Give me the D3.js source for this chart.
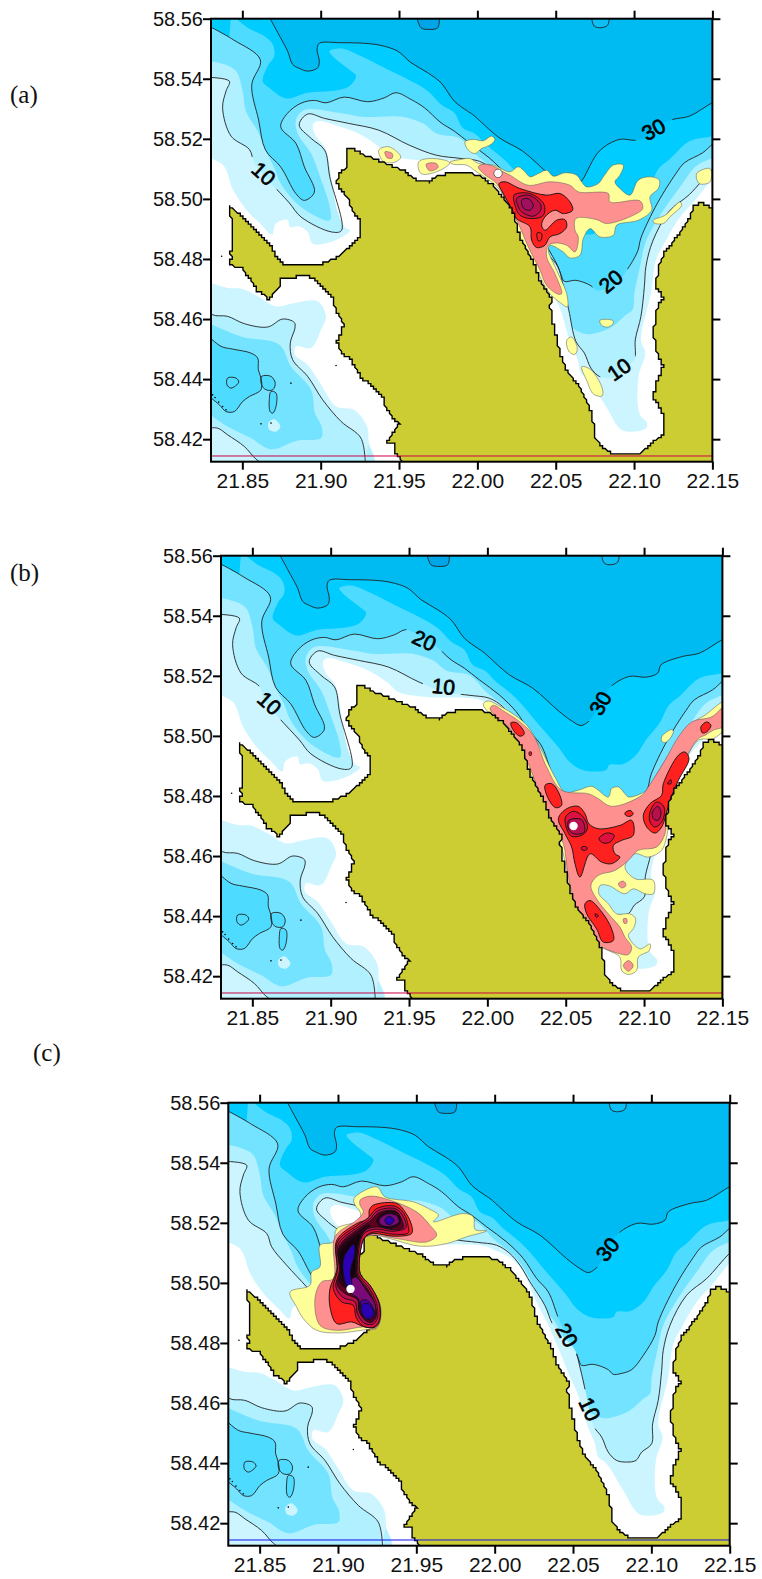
<!DOCTYPE html>
<html><head><meta charset="utf-8">
<script src="https://cdn.jsdelivr.net/npm/d3@7"></script>
<style>html,body{margin:0;background:#fff}svg{display:block}</style></head>
<body><script>
const lonTicks=[21.85,21.90,21.95,22.00,22.05,22.10,22.15];
const latTicks=[58.42,58.44,58.46,58.48,58.50,58.52,58.54,58.56];
const coastNorth=[[11.5,125],[20.7,132],[28.3,141],[34,147],[39,152],[41,157.7],[47,163.7],[70,163.7],[81,158.8],[94.6,145.4],[94.6,133.2],[92,130],[88.7,124.3],[87.7,119.8],[83,114.3],[80,108.7],[82,103],[87,98.7],[87,87],[90,86.4],[96.3,90.2],[107,94.2],[114.6,97.6],[124.4,102],[131,107.6],[139.5,109],[145,104],[163,102],[172,105],[180,111],[188.3,121.6],[192.5,128.2],[195.7,139.3],[196.8,144.9],[202,155],[206.3,163.8],[210.6,176],[217.6,187],[216,192.7],[218,195],[218,201.6],[220,209.3],[222.3,221.6],[226.6,233.8],[234,242.7],[241.4,258],[244.6,271.6],[244.6,278.2],[250,285],[255.3,289],[274.4,289],[288.3,277],[288.7,263.8],[286,258.2],[282.3,251.6],[285,240.4],[288.7,231.6],[285,223.8],[282.3,209.3],[285,191.6],[288.7,186],[284.4,179.3],[285,167.1],[289.3,156],[296.8,146],[305.3,132.7],[308.5,125],[312.7,122],[319.7,126],[330,129]];
const landCorners=[[330,310],[121.7,310]];
const coastSouth=[[121.7,294.9],[118,289.3],[116.6,283.1],[111.7,281.6],[115.3,277.1],[120.2,269.3],[116,266],[110.6,257.1],[109.6,251.6],[102,243.8],[95.7,239.3],[92.6,232.7],[89.4,227.1],[84,222.7],[81.3,219.3],[80.4,214.2],[83,209.3],[84.5,203.8],[82,198.2],[79.4,193.8],[78.3,187.1],[74.5,182.7],[68,174.9],[61.7,170.9],[56.4,170.5],[53.6,172],[43.6,173.3],[44.7,177.8],[36.2,187.1],[34,183.8],[29.8,181.6],[28,178.2],[24.5,172.7],[20.2,166.5],[17,165.3],[11.3,163.8],[13.2,159.3],[12.3,155.6],[14,152.7],[14.3,144.9],[13.6,138.8],[12.1,127.6]];
const depth30=[[36.2,-3],[42.6,9.3],[48.9,21.6],[52.1,30.4],[56.4,33.1],[61.7,34.9],[68.1,32.7],[69.1,28.2],[67.7,20.4],[69.1,16.4],[83,16],[97.9,16.4],[108.5,17.8],[119.1,21.6],[127.7,29.3],[138.3,36],[146.8,42.7],[155.3,54.9],[163.8,61.6],[167,63.8],[184,79.3],[198.9,88.2],[215.9,103.8],[224.4,110.4],[229.7,113.1],[234,110.9],[237.2,107.1],[247.8,88.2],[260.6,80.4],[271.2,80.9],[278.7,78.2],[280.8,72.7],[294.6,67.1],[305.3,64.9],[319.8,56],[326,53]];
const band25=[[12.8,-3],[23.4,6],[34,11.6],[39.4,17.1],[40.4,24.9],[36.2,31.6],[33,41.6],[37.2,46],[47.9,53.1],[61.7,49.3],[76.6,48.2],[88.3,44.9],[92.6,38.2],[89.4,34.9],[78.7,26],[75.5,21.6],[83,19.8],[95.7,24.9],[110.6,32.7],[125.5,40.4],[138.3,48.2],[146.8,57.1],[155.3,62.7],[160.6,72.7],[169,77],[174.4,82.7],[188.3,94.9],[203,112.7],[215.9,128.2],[222.3,137.1],[230.8,142.7],[245.7,142.7],[247.8,139.3],[256.3,138.9],[264.9,132.7],[271.2,122.7],[279.8,111.6],[286.1,99.3],[292.5,93.8],[305.3,81.6],[319.8,78.2],[326,76]];
const depth20=[[-3,4],[14.2,14],[31.5,27.4],[26,44],[30.4,67.5],[34.8,87.5],[44.5,98.7],[54.2,116.5],[59.6,121],[66,115.4],[59.6,98.7],[54.2,83],[44.5,72],[48.8,63],[57.4,56.3],[66,54.4],[73.4,56],[85,52.2],[100,55.3],[110.6,52.7],[118,49.3],[127.7,53.8],[136.2,59.3],[146.8,69.3],[155.3,74.9],[164.9,82.7],[177.6,92.7],[188.3,103.8],[196.8,117.1],[204.2,126],[211.7,146],[221.2,164.5],[223.4,170.5],[225.5,174.9],[232.9,174.2],[242.5,177.8],[245.7,180.9],[250,180.5],[257.4,177.8],[264.9,168.2],[272.3,154.9],[274.4,146],[285,122.7],[296.8,103],[302.1,96],[313.8,89.3],[319.8,83.8],[326,79]];
const band15=[[-3,27.5],[8.5,30.4],[16,34.9],[20.2,48.2],[22.3,61.6],[29.8,74.9],[35.1,88.2],[40.4,99.3],[44.5,109.8],[57.4,125.4],[75.8,134.3],[75.8,125.4],[70.4,107.6],[63.9,89.8],[55.3,76.4],[54.2,67.5],[59.6,60.8],[83.3,63],[96.3,65.3],[122.2,65.3],[135.1,69.7],[143.8,76.4],[158.9,79.7],[169,90.4],[184,103.8],[194.6,121.6],[201,137.1],[208.5,146],[221.2,173.8],[228.7,200.5],[230.8,206],[239.3,210],[245.7,209.3],[256.3,204.9],[264.9,197.1],[269.1,193.8],[270.2,182.7],[273.4,167.1],[277.6,148.2],[288.3,128.2],[298.9,112.7],[309.5,98.2],[319.8,92.7],[326,90]];
const depth10=[[-3,39],[11.7,41.6],[9.6,48.2],[7.4,59.3],[12.8,78.2],[24.5,87.1],[27.7,96],[37.2,108.2],[50,122.7],[57.4,132],[76.9,142],[83.3,141],[75.8,105.3],[72.5,87.5],[63.9,79.7],[56.3,70.8],[61.7,63.5],[72.5,66.4],[87.7,69.7],[107,74.2],[126.5,84.2],[143.8,90.9],[158.9,93],[171.2,94.9],[179.7,100.4],[186.1,108.2],[192.5,119.3],[202,134.9],[207.4,148.2],[221.2,164.9],[224.4,176],[228.3,193.8],[232.9,214.9],[238.3,222.7],[242.5,232.7],[247.8,238.2],[254.2,239.3],[260.2,238.2],[263.8,232.7],[270.2,227.1],[270.8,213.8],[274.4,198.2],[276.6,178.2],[277.6,164.9],[281.9,148.2],[292.5,128.2],[305.3,117.1],[319.8,100.4],[326,95]];
const band5=[[-3,92],[7.8,97.6],[14.2,114.3],[22.9,127.6],[31.5,136.5],[39,143.7],[41.2,136.5],[48.8,133.9],[50.5,138.8],[56.3,138.3],[61.7,142],[65,149.9],[79,147.7],[88.7,141],[85.5,138.8],[81.2,129.8],[77.9,114.3],[75.8,98.7],[72.5,85.3],[67.1,78.6],[65,70.8],[68.2,68.2],[79,70.8],[94.1,76.4],[106,84.2],[113.6,90.9],[133,94.2],[161,95],[170.2,98.2],[180.8,103.8],[188.3,112.7],[195.7,130.4],[201,141.6],[204.2,148.2],[211.7,166],[218,182.7],[223.4,194.9],[228.7,213.8],[234,227.1],[236.1,236],[241.4,240.4],[252.1,258.2],[262.7,274.2],[277.6,272.7],[278.3,269.3],[273.4,262.7],[272.9,238.2],[277.2,222.7],[274.4,213.8],[280.8,182.7],[284,160.5],[288.3,151.6],[298.9,132.7],[309.5,120.4],[319.8,107.1],[326,102]];
const basinCoastal=[[-3,175],[10.6,179.3],[20.2,180],[29.8,184.9],[41.5,191.6],[53.2,189.3],[68,188.2],[73.4,198.2],[70.2,207.1],[63.8,219.3],[54.3,218.2],[53.6,223.8],[61.7,230.5],[70.2,243.8],[79.8,258.2],[91.5,260.5],[99.6,271.6],[101,283.8],[104.3,291.6],[104.3,310],[-3,310]];
const basin10=[[-3,191],[1,197.1],[10.6,198.2],[21.3,203.1],[36.2,205.3],[45.7,200],[53.2,202.3],[53.6,206],[50.6,216],[52.1,227.1],[61.7,238.2],[71.3,253.8],[83,268.2],[95.7,279.3],[98.5,297]];
const basin10Rim=[[100.4,283.8],[103.6,292],[103.6,310],[-3,310]];
const basin15=[[-3,202],[19.1,211.6],[43.6,217.1],[51,231.6],[63.8,247.1],[66.4,262.7],[70.6,271.6],[70.2,279.3],[55.3,280.9],[38.3,286.7],[25.5,279.3],[10.6,271.6],[-3,262]];
const basin20=[[-3,210],[6.4,218.2],[13.8,220],[25.5,222.7],[29.8,226],[30.2,233.8],[31.9,239.3],[31.9,247.1],[24.5,251.6],[20.2,254.9],[14.9,261.6],[9.6,261.6],[5.3,257.1],[-3,250]];
const basinRing=[[10.6,239.3],[15.9,239.3],[17.7,242],[12.8,246],[10.2,243.8]];
const basinPool=[[32.3,238.2],[38.3,238.2],[41,242.7],[39.4,247.1],[35.1,247.1],[32.3,243.8]];
const basinSlot=[[38.3,248.2],[41.5,249.3],[41.5,258.2],[39.4,262.7],[37.7,261.6],[37.2,253.8]];
const basinSouth=[[-3,272.7],[4.3,272.7],[10.6,277.1],[21.3,284.9],[28.7,293.3],[34,297]];
const shoal=[[36.6,269.3],[40.4,266.7],[44.3,271.6],[41.5,274.9],[37.2,273.8]];
const northHoleA=[[130.9,-3],[134,6],[138.3,7.1],[144.7,6],[145.7,-3]];
const northHoleB=[[242.5,-3],[244.6,4.9],[248.9,6],[253.2,4.2],[254.2,-3]];
const specks=[[6.8,158.2],[79.8,230.9],[51,242.7],[31.9,269.8],[38.3,269.3],[1,250.5],[2.6,252.2],[4.9,255.3],[7.4,258.2],[9.6,260.4]];
const sectionLat=58.4144;
// dye concentration patches: [level, outline]
const plumeA=[
[0,[[152.4,95.5],[158.9,93.8],[165.3,93.1],[170.6,96.4],[180.2,97.5],[190.8,102],[196.1,98.6],[200.4,102],[203.6,105.3],[208.9,103.1],[214.2,100.9],[218.5,104.9],[225.9,102.6],[233.4,104.2],[236.5,108.6],[239.7,112],[247.2,109.8],[250.4,105.3],[256.8,97.5],[263.1,97.5],[261,104.2],[257.8,108.6],[261,113.1],[267.4,117.5],[272.7,107.5],[280.2,105.3],[286.1,107.5],[285.5,113.1],[280.2,118.6],[281.2,127.5],[272.7,134.2],[258.9,137.5],[256.8,144.2],[248.2,145.3],[241.9,139.8],[237.6,146.4],[235.5,157.5],[229.1,159.3],[224.8,155.3],[216.3,150.9],[215.3,154.2],[220.6,167.5],[227,183.1],[227.4,192],[223.8,189.8],[216.3,183.1],[208.9,169.8],[202.5,155.3],[197.2,145.3],[194,136.4],[184.4,114.2],[175.9,106.4],[169.5,102],[163.1,97.5],[155,97]]],
[0,[[162.1,82],[167.4,80.4],[173.8,81.3],[179.1,78.2],[181.2,80.4],[178,84.2],[172.7,86.4],[168.5,89.8],[164.2,87.5]]],
[0,[[248.2,200.9],[256.3,200.9],[256.8,202.6],[253.6,205.3],[249.3,204.2]]],
[0,[[227,214.2],[230.2,212],[233.8,219.8],[232.3,223.5],[228.7,222]]],
[0,[[236.6,231.8],[242,233.4],[249.6,245.7],[249.6,251.2],[244.2,250.1],[239.9,241.2]]],
[0,[[310,103.1],[318.5,99.8],[318.5,108.6],[311.6,109.8]]],
[0,[[282.3,134.2],[289.7,130.9],[299.3,122],[300.4,124.2],[292.9,132],[288.7,136.4],[282.7,136]]],
[0,[[107.1,87.5],[113.6,85.3],[121.1,92],[117.9,95.3],[110.3,95.3]]],
[0,[[132.6,95.3],[141.6,93.1],[152.4,96],[143.8,102],[134,103.1]]],
[1,[[111,88.6],[115.7,89.8],[115.7,92.7],[112.5,92.7]]],
[1,[[137.3,96.9],[143.8,96.4],[144.9,99.1],[139.5,101.3]]],
[1,[[170.6,98.6],[173.8,96.9],[180.2,98.2],[186.5,102],[190.8,104.2],[202.5,110.9],[216.3,108.6],[229.1,110.9],[234.4,115.3],[253.6,116.4],[254.6,122],[273.8,121.3],[275.5,126.4],[269.5,130.9],[252.5,136.4],[246.1,133.8],[232.9,133.1],[232.3,140.9],[234.4,145.3],[232.3,155.3],[227,150.9],[220.6,149.3],[215.3,150.9],[214.2,158.6],[219.5,169.8],[223.8,183.1],[221.6,183.5],[214.2,177.5],[210,167.5],[202.5,152],[196.1,136.4],[189.7,124.2],[182.3,109.8],[173.8,103.1]]],
[2,[[183.8,109.8],[187.6,108.6],[197.2,113.1],[214.2,117.5],[222.7,116.4],[229.1,122],[230.8,127.5],[224.8,129.8],[219.5,127.5],[213.1,132],[211,137.5],[213.1,140.9],[220.6,134.2],[225.9,133.8],[227,138.6],[222.7,143.1],[216.3,145.3],[213.1,150.9],[207.8,152.4],[204.6,147.5],[203.6,138.6],[195,133.1],[191.9,126.4],[186.5,116.4]]],
[2,[[208.2,142.6],[211,143.1],[210.6,147.5],[208.9,148]]],
[3,[[193.4,117.5],[201.4,116],[207.8,118.6],[212.7,124.2],[212.1,130.9],[205.7,133.1],[197.2,130.9],[194,124.2]]],
[4,[[195,119.8],[202.5,117.5],[210,123.1],[210.4,127.5],[205.7,131.5],[198.2,128.6],[195.7,124.2]]],
[5,[[198.2,120.9],[202.5,119.8],[205.7,124.2],[203.6,127.5],[199.7,126.4]]]
];
const plumeB=[
[0,[[167.4,98.5],[170.6,96.7],[177,99.6],[187.6,106.2],[196.1,114],[204.6,129.6],[213.1,147.3],[219.5,157.3],[228,156.2],[236.6,153.6],[247.2,160.7],[249.3,155.1],[253.6,154],[257.8,158.5],[260,160.7],[271.7,156.2],[277,147.3],[287.6,129.6],[300.4,111.8],[308.9,106.2],[322,97],[322,114],[314.2,121.8],[304.6,122.9],[294,142.9],[286.6,171.8],[284.4,187.3],[281.2,196.2],[272.7,200.7],[264.2,198.5],[257.8,207.3],[264.2,215.1],[275.9,216.2],[275.9,225.1],[270.6,225.1],[263.1,221.8],[257.8,225.1],[247.2,219.6],[241.9,219.6],[241.2,225.1],[247.2,231.8],[252.5,238.5],[261,238.5],[264.6,241.8],[263.1,248.5],[260,252.9],[267.4,261.8],[273.8,258.5],[273.4,262.9],[266.3,267.3],[265.3,276.2],[260,278.9],[255.7,276.2],[254.6,267.3],[247.2,262.9],[240.8,259.6],[234.4,245.1],[228,238.5],[221.7,218.5],[218.5,198.5],[213.1,182.9],[206.8,167.3],[199.3,149.6],[191.9,131.8],[184.4,116.2],[177,108.5],[169.5,102.9]]],
[0,[[281.2,120.7],[287.6,115.8],[288.7,117.3],[284.4,124],[281.6,124]]],
[1,[[171.7,101.8],[173.8,99.6],[181.2,104],[190.8,110.7],[199.3,119.6],[207.8,140.7],[217.4,156.2],[234.4,158.5],[240.8,161.8],[249.3,166.9],[268.5,159.6],[272.7,154],[283.4,136.2],[291.9,120.7],[300.4,110.7],[313.2,107.3],[322,100],[322,113],[314.2,116.2],[308.9,119.6],[304.6,121.8],[291.9,145.1],[284.4,171.8],[283.4,185.1],[278,194],[266.3,196.2],[260,202.9],[251.4,209.6],[240.8,212.9],[236.1,219.6],[239.7,228.5],[247.2,238.5],[254.6,247.3],[257.8,254],[262.1,260.7],[260,265.6],[254.6,265.1],[240.8,258.5],[234.4,242.9],[228,236.2],[221.7,214],[218.5,191.8],[211,176.2],[203.6,158.5],[195.1,136.2],[183.4,114],[177,108.5]]],
[1,[[253.6,218.5],[256.8,216.7],[258.5,219.6],[255.7,221.3]]],
[1,[[256.8,241.8],[258.9,241.8],[258.9,244.7],[257.2,244.7]]],
[1,[[256.8,272.9],[260,269.6],[263.1,272.9],[260,276.7]]],
[2,[[215.3,175.1],[220.6,168.5],[228,166.9],[232.3,171.8],[234.8,178.5],[240.8,181.8],[254.6,179.6],[262.1,176.2],[263.1,186.2],[255.7,189.6],[250.4,192.9],[251.4,198.5],[254.6,200.7],[249.3,205.1],[242.9,204],[235.5,198.5],[229.1,214],[225.9,205.1],[223.8,194],[219.5,185.1]]],
[2,[[206.8,152.9],[211,151.8],[215.3,157.3],[217.4,166.2],[213.6,167.8],[208.9,161.8]]],
[2,[[185,111.3],[188.7,111.3],[193.6,118.5],[190.8,120.2],[186.6,116.2]]],
[2,[[257.8,171.3],[261,169.6],[263.1,171.8],[261,173.6],[258.3,172.9]]],
[2,[[269.5,172.9],[273.8,165.1],[281.2,159.6],[282.3,151.8],[291.9,132.9],[296.1,130.7],[298.7,135.1],[291.9,149.6],[286.6,162.9],[281.2,180.7],[277,184.7],[271.7,180.7]]],
[2,[[306.3,114],[310,110.7],[312.7,112.9],[310,117.3],[307.2,118]]],
[2,[[232.3,231.8],[235.5,229.6],[243,237.3],[249.3,248.5],[250.4,256.2],[244,257.3],[239.7,248.5],[233.4,238.5]]],
[2,[[196.8,130.7],[198,130.7],[198,132.9],[196.8,132.9]]],
[3,[[219.9,174],[224.9,170.2],[230.2,172.9],[234,180.7],[231.2,185.6],[223.8,186.9],[220.6,181.8]]],
[4,[[222,176.2],[230.2,175.8],[231.9,184],[224.9,185.1],[221.7,181.8]]],
[3,[[241.2,188.5],[246.1,184.7],[251,186.2],[248.3,190.7],[244,191.3]]],
[3,[[273.8,170.7],[278,164],[282.7,167.3],[281.9,176.2],[277,180.7],[273.8,177.3]]],
[4,[[275.3,170.7],[278.7,166.9],[280.8,170.7],[279.1,176.2],[275.9,175.1]]],
[3,[[230.2,194],[233.4,194],[233.4,195.8],[230.2,195.8]]],
[3,[[238.7,238.5],[240.8,239.6],[239.7,241]]],
[3,[[285,151.8],[287.2,149.1],[287.2,151.8]]]
];
const plumeC=[
[0,[[80.2,63.8],[94.7,56],[100,62.7],[118.1,66],[127.7,70.5],[134.1,74.9],[130.9,79.3],[150,73.8],[156.4,76],[157.5,84.5],[164.9,85.3],[152.1,89.3],[139.4,93.8],[122.4,95.6],[103.2,90.5],[92.6,88.2],[86.5,90.5],[83.8,101],[84,114],[89.8,121.8],[96.6,134],[96.8,145],[94,150.5],[88.3,151.1],[70.2,153.3],[56.4,151.6],[47.9,143.8],[43.6,136],[39.4,126],[52.1,121.6],[53.2,112.7],[58.5,109.3],[58.5,94.9],[67,92.7],[69.2,83.8],[84.1,78.2],[84.1,72.7],[80.9,68.2]]],
[1,[[84.1,64.9],[90.4,62.2],[103.2,64.9],[120.2,72.7],[128.7,81.6],[133,88.2],[126.6,92.7],[107.5,90.5],[92.6,88.2],[87,90],[83.9,101],[84,114],[90,122],[96.8,134],[97,145],[94,150.4],[86.2,149.3],[69.2,151.6],[58.5,148.2],[55.3,130.5],[59.6,119.3],[67,117.1],[68.1,89.3],[81.9,78.2],[86.2,72.7],[84.1,68.2]]],
[2,[[90,71.6],[92.6,68.2],[107.5,67.1],[112.8,72.7],[117,81.6],[117,87.1],[105.3,88.9],[92.6,87.1],[87,89.8],[84.1,100.5],[84.3,114],[90.4,121.6],[96.4,133.8],[96.6,145],[93.6,149.5],[86.2,149],[78.7,146],[69.2,147.1],[64.9,136],[64.9,123.8],[69.2,111.6],[69.2,91.6],[81.9,80.5],[89.4,77.1]]],
[3,[[69.6,92.7],[82.4,81.6],[89.4,76.5],[94.7,70.5],[106.4,68.9],[112.1,73.8],[114.9,82.7],[114.9,86.7],[105.3,87.6],[93.6,86],[87.3,89.3],[84.1,100.5],[84.1,113.8],[90.4,121.6],[96.2,133.8],[96.4,144.9],[93.2,149.3],[86.2,148.9],[81.5,142.7],[79.8,134.9],[72.4,132.7],[67,123.8],[69.6,111.6]]],
[4,[[70.2,94.2],[83,82.7],[90,77.8],[95.3,72],[106.4,70.5],[111.1,74.9],[113.4,83.1],[105.3,85.6],[93.6,84.2],[86.2,87.6],[83,100.5],[83,114.2],[89.4,122.7],[94.7,133.8],[95.1,143.8],[92.1,147.6],[86.6,146.7],[82.4,140.5],[80.9,132.7],[73.4,129.8],[68.7,122.7],[70.9,111.6]]],
[6,[[70.9,95.6],[83.4,83.8],[90.4,78.9],[96.2,73.3],[106.4,72],[110,76.5],[111.7,83.1],[104.9,84.5],[94.1,82.7],[85.1,86.5],[82.4,100.5],[82.4,114.9],[88.7,123.8],[93.6,133.8],[94.3,142.7],[91.5,146.2],[87.3,144.9],[83.4,138.7],[82.4,131.1],[74.5,127.1],[69.6,121.6],[71.3,111.6]]],
[10,[[70.9,97.8],[83.6,85.3],[88.7,81.6],[90.4,81.6],[85.1,88.2],[81.9,100.5],[81.9,116],[87.3,124.9],[90.4,129.3],[84.1,127.1],[76.6,124.5],[70.9,119.3],[71.7,111.6]]],
[7,[[71.7,99.3],[83,88.2],[84.1,88.2],[81.1,100.5],[81.1,111.6],[78.7,119.3],[74.5,120.5],[71.9,113.8]]],
[8,[[76.6,121.6],[80.9,116],[88.7,126],[93.6,133.8],[93.6,141.6],[90.9,144.5],[87.3,143.8],[84.1,138.2],[83,130.5],[78.1,126.7]]],
[9,[[73.9,102.7],[80.2,94.2],[80.7,100.5],[78.1,111.6],[78.5,122.7],[75.6,121.6],[73.4,113.8]]],
[11,[[84.7,132],[88.7,131.6],[93.2,139.3],[90.9,144.5],[86.2,141.6]]],
[9,[[85.6,134.2],[89.4,133.8],[93,140.9],[88.7,144],[85.1,140]]],
[10,[[94.7,78.2],[100,72.7],[107.9,73.3],[110,79.3],[106.4,83.1],[96.8,82.2]]],
[8,[[96.2,78.2],[100.7,74.2],[107,74.9],[109,79.3],[104.3,82.2],[97.9,81.6]]],
[9,[[100,77.8],[102.8,75.6],[105.8,78.2],[103.6,81.1],[100.7,80.4]]]
];
const labelsA=[["10",33.7,103.1,42],["10",260.4,233.4,-35],["20",255,174.8,-40],["30",282.4,73.7,-28]];
const labelsB=[["10",31,98.2,42],["20",129.8,56.3,25],["10",142,87,5],["30",242,98.2,-60]];
const labelsC=[["30",242,97.6,-50],["20",216.2,154.8,60],["10",230.7,204,65]];

const levelColors=["#FFFF99","#FF9090","#FF2020","#DD1040","#B8104C","#A01060","#600020","#180010","#7A0A78","#2A00B0","#300018","#5000A0"];
const panels=[
 {name:"(a)",nx:10,ny:103,left:211,top:18.7,plume:plumeA,labels:labelsA,dot:[22.0132,58.5085],section:"#CC0044",plumeOverLand:false},
 {name:"(b)",nx:10,ny:581,left:221,top:555.7,plume:plumeB,labels:labelsB,dot:[22.055,58.47],section:"#CC0044",plumeOverLand:false},
 {name:"(c)",nx:33,ny:1061,left:228.3,top:1102.7,plume:plumeC,labels:labelsC,dot:[21.908,58.498],section:"#1111EE",plumeOverLand:true}
];
const W=501.4,H=443;
const x=d3.scaleLinear().domain([21.83,22.15]).range([0,W]);
const y=d3.scaleLinear().domain([58.56,58.4125]).range([0,H]);
const gLon=g=>21.83+g*0.001, gLat=g=>58.56-g*0.0005;
const smooth=d3.line().x(d=>x(gLon(d[0]))).y(d=>y(gLat(d[1]))).curve(d3.curveCatmullRom);
const blob=d3.line().x(d=>x(gLon(d[0]))).y(d=>y(gLat(d[1]))).curve(d3.curveCatmullRomClosed);
const sharp=d3.line().x(d=>x(gLon(d[0]))).y(d=>y(gLat(d[1])));
// the land mask of the original is gridded: the coast is drawn snapped to mask cells
function maskOutline(pts){
  const cw=1.7,ch=1.8,out=[];
  pts.forEach((a,i)=>{const b=pts[(i+1)%pts.length];
    const n=Math.max(1,Math.ceil(Math.hypot(b[0]-a[0],b[1]-a[1])/0.8));
    for(let k=0;k<n;k++){const t=k/n;
      const q=[Math.round((a[0]+(b[0]-a[0])*t)/cw)*cw,Math.round((a[1]+(b[1]-a[1])*t)/ch)*ch];
      const l=out[out.length-1];
      if(!l||l[0]!==q[0]||l[1]!==q[1])out.push(q);}});
  return sharp(out)+"Z";
}
const farSE=[[330,310],[-10,310]];
const svg=d3.select("body").append("svg").attr("width",762).attr("height",1579);
const serif="'Liberation Serif','Times New Roman',serif", sans="'Liberation Sans',Arial,sans-serif";

panels.forEach((p,i)=>{
  svg.append("text").attr("x",p.nx).attr("y",p.ny).attr("font-family",serif).attr("font-size",25).attr("fill","#111").text(p.name);
  const g=svg.append("g").attr("transform",`translate(${p.left},${p.top})`);
  const defs=g.append("defs");
  defs.append("clipPath").attr("id","clip"+i).append("rect").attr("width",W).attr("height",H);
  const mask=defs.append("mask").attr("id","gap"+i).attr("maskUnits","userSpaceOnUse").attr("x",-5).attr("y",-5).attr("width",W+10).attr("height",H+10);
  mask.append("rect").attr("x",-5).attr("y",-5).attr("width",W+10).attr("height",H+10).attr("fill","#fff");
  p.labels.forEach(l=>mask.append("ellipse").attr("rx",21).attr("ry",13).attr("fill","#000")
     .attr("transform",`translate(${x(gLon(l[1]))},${y(gLat(l[2]))}) rotate(${l[3]})`));
  const m=g.append("g").attr("clip-path",`url(#clip${i})`);
  m.append("rect").attr("width",W).attr("height",H).attr("fill","#00BAF2");
  const poly=(pts,c)=>m.append("path").attr("d",smooth(pts)+"Z").attr("fill",c);
  poly(northHoleA,"#00A6E8");
  poly(northHoleB,"#0CBFF4");
  poly(depth30.concat(farSE,[[-10,-10]]),"#00CCFF");
  poly(band25.concat(farSE),"#4DDBFF");
  poly(depth20.concat(farSE),"#73E3FF");
  poly(band15.concat(farSE),"#B0F0FF");
  poly(depth10.concat(farSE),"#CCF5FF");
  poly(band5.concat(farSE),"#FFFFFF");
  poly(basinCoastal,"#CCF5FF");
  poly(basin10.concat(basin10Rim),"#B0F0FF");
  poly(basin15,"#73E3FF");
  poly(basin20,"#4DDBFF");
  poly(basinPool,"#4DDBFF");
  poly(basinSlot,"#4DDBFF");
  poly(basinSouth.concat([[-10,310]]),"#CCF5FF");
  m.append("path").attr("d",blob(shoal)).attr("fill","#CCF5FF");
  const lines=m.append("g").attr("mask",`url(#gap${i})`).attr("fill","none").attr("stroke","#222").attr("stroke-width",0.9);
  [depth30,depth20,depth10,basin10,basin20,basinSouth,northHoleA,northHoleB].forEach(c=>lines.append("path").attr("d",smooth(c)));
  [basinRing,basinPool,basinSlot].forEach(c=>lines.append("path").attr("d",blob(c)));
  const drawPlume=()=>p.plume.forEach(s=>m.append("path").attr("d",blob(s[1])).attr("fill",levelColors[s[0]])
     .attr("stroke",s[0]<2?"#555":"#111").attr("stroke-width",s[0]<2?0.5:0.9));
  const drawLand=()=>{m.append("path").attr("d",maskOutline(coastNorth.concat(landCorners,coastSouth))).attr("fill","#CCCC33").attr("stroke","#000").attr("stroke-width",1.4);
    m.selectAll(".s").data(specks).join("circle").attr("cx",d=>x(gLon(d[0]))).attr("cy",d=>y(gLat(d[1]))).attr("r",0.8).attr("fill","#000");};
  if(p.plumeOverLand){drawLand();drawPlume();}else{drawPlume();drawLand();}
  m.append("line").attr("x1",0).attr("x2",W).attr("y1",y(sectionLat)).attr("y2",y(sectionLat)).attr("stroke",p.section).attr("stroke-width",1);
  m.append("circle").attr("cx",x(p.dot[0])).attr("cy",y(p.dot[1])).attr("r",4.2).attr("fill","#fff").attr("stroke","#000").attr("stroke-width",i==0?0.5:0);
  p.labels.forEach(l=>m.append("text").text(l[0]).attr("text-anchor","middle").attr("dy","0.36em")
     .attr("transform",`translate(${x(gLon(l[1]))},${y(gLat(l[2]))}) rotate(${l[3]})`)
     .attr("font-family",sans).attr("font-size",21).attr("fill","#000").attr("stroke","#000").attr("stroke-width",0.7));
  const style=a=>{a.select(".domain").remove();a.selectAll("line").attr("stroke","#000").attr("stroke-width",2);
     a.selectAll("text").attr("fill","#111").attr("font-family",sans);};
  const b=g.append("g").attr("transform",`translate(0,${H})`).call(d3.axisBottom(x).tickValues(lonTicks).tickSize(8).tickPadding(3).tickFormat(d3.format(".2f")));
  style(b); b.selectAll("text").attr("font-size",21);
  const t=g.append("g").call(d3.axisTop(x).tickValues(lonTicks).tickSize(8).tickFormat(""));style(t);
  const l=g.append("g").call(d3.axisLeft(y).tickValues(latTicks).tickSize(8).tickPadding(0).tickFormat(d3.format(".2f")));
  style(l); l.selectAll("text").attr("font-size",20);
  const r=g.append("g").attr("transform",`translate(${W},0)`).call(d3.axisRight(y).tickValues(latTicks).tickSize(8).tickFormat(""));style(r);
  g.append("rect").attr("width",W).attr("height",H).attr("fill","none").attr("stroke","#000").attr("stroke-width",2);
});
</script></body></html>
